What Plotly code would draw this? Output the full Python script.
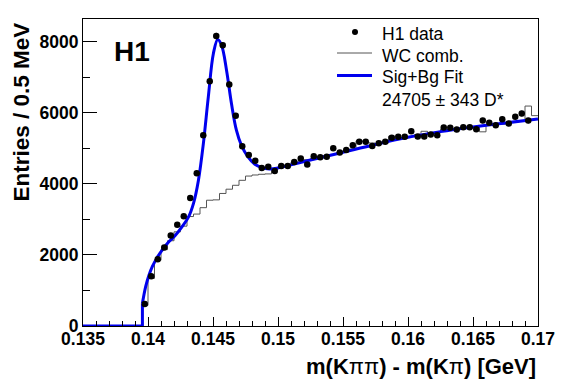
import numpy as np
import plotly.graph_objects as go

# ---- data ----
bin_width = 0.0005
x_min, x_max = 0.135, 0.17
edges = [round(x_min + i * bin_width, 5) for i in range(71)]
centers = [round(x_min + (i + 0.5) * bin_width, 6) for i in range(70)]

# H1 data (bins 9..69 nonzero)
data_counts = [0] * 9 + [
    620, 1400, 1880, 2210, 2550, 2850, 3090, 3600, 4300, 5370,
    6890, 8160, 7900, 6800, 5920, 5060, 4810, 4650, 4450, 4480,
    4365, 4505, 4500, 4615, 4715, 4545, 4775, 4750, 4765, 5000,
    4880, 4950, 5085, 5185, 5185, 5065, 5140, 5185, 5295, 5325,
    5325, 5480, 5330, 5330, 5390, 5370, 5585, 5580, 5530, 5590,
    5590, 5540, 5780, 5720, 5650, 5820, 5700, 5890, 5980, 5780,
]
data_x = centers[9:]
data_y = data_counts[9:]

# WC combination (wrong-charge) background histogram
wc_counts = [0] * 9 + [
    580, 1340, 1850, 2150, 2400, 2650, 2810, 3080, 3150, 3330,
    3540, 3550, 3730, 3850, 3960, 4100, 4220, 4250, 4270, 4280,
    4430, 4480, 4530, 4610, 4620, 4680, 4720, 4770, 4800, 4830,
    4880, 4930, 4980, 5210, 5180, 5150, 5120, 5150, 5340, 5270,
    5300, 5330, 5390, 5480, 5420, 5440, 5540, 5520, 5540, 5560,
    5580, 5600, 5465, 5640, 5660, 5680, 5720, 5740, 5760, 6190,
    5920,
]

# Sig+Bg fit curve
fit_zero_x = [0.135, 0.13957, 0.13957]
fit_zero_y = [0, 0, 640]
fit_x = [0.13957, 0.13982, 0.14008, 0.14033, 0.14071, 0.14109, 0.1416, 0.14211,
         0.14261, 0.14312, 0.1435, 0.14388, 0.14426, 0.14464, 0.14503, 0.14536,
         0.14566, 0.14604, 0.14642, 0.1468, 0.14718, 0.14769, 0.1482, 0.14871,
         0.14934, 0.14997, 0.1525, 0.155, 0.1575, 0.16, 0.1625, 0.165, 0.1675, 0.17]
fit_y = [640, 1110, 1435, 1670, 1930, 2135, 2370, 2555,
         2790, 3070, 3450, 4105, 5140, 6450, 7670, 8065,
         7900, 7200, 6260, 5510, 5090, 4760, 4560, 4465,
         4420, 4445, 4670, 4890, 5110, 5310, 5470, 5600, 5715, 5825]

x_ticks = [0.135, 0.14, 0.145, 0.15, 0.155, 0.16, 0.165, 0.17]
x_ticklabels = ["0.135", "0.14", "0.145", "0.15", "0.155", "0.16", "0.165", "0.17"]
y_ticks = [0, 2000, 4000, 6000, 8000]
legend_labels = ["H1 data", "WC comb.", "Sig+Bg Fit"]
n_signal, n_signal_err = 24705, 343

FONT = "Liberation Sans"
W, H = 567, 384
ML, MR, MT, MB = 83, 29, 19, 58
PW, PH = W - ML - MR, H - MT - MB


def px(xp):
    return (xp - ML) / PW


def py(yp):
    return 1 - (yp - MT) / PH


BLUE = "#0000ee"
GRAY = "#555555"

fig = go.Figure()

fig.add_trace(go.Scatter(
    x=edges, y=wc_counts + [wc_counts[-1]], mode="lines", line_shape="hv",
    line=dict(color=GRAY, width=1), name=legend_labels[1], showlegend=False))

fig.add_trace(go.Scatter(
    x=fit_zero_x, y=fit_zero_y, mode="lines",
    line=dict(color=BLUE, width=3), showlegend=False, hoverinfo="skip"))
fig.add_trace(go.Scatter(
    x=fit_x, y=fit_y, mode="lines", line_shape="spline",
    line=dict(color=BLUE, width=3), name=legend_labels[2], showlegend=False))

fig.add_trace(go.Scatter(
    x=data_x, y=data_y, mode="markers",
    marker=dict(color="black", size=6.5),
    error_y=dict(type="data", array=list(np.sqrt(data_y)), color="black",
                 thickness=1, width=0),
    name=legend_labels[0], showlegend=False))

fig.update_layout(
    width=W, height=H,
    margin=dict(l=ML, r=MR, t=MT, b=MB),
    paper_bgcolor="white", plot_bgcolor="white",
    font=dict(family=FONT, color="black"),
    showlegend=False,
)

TICKFONT = dict(size=17.5, family=FONT, weight="bold", color="black")
fig.update_xaxes(
    range=[x_min, x_max], showgrid=False, zeroline=False,
    showline=True, linecolor="black", linewidth=1, mirror=True,
    ticks="inside", ticklen=9, tickcolor="black",
    tickvals=x_ticks, ticktext=x_ticklabels, tickfont=TICKFONT,
    ticklabelstandoff=-3,
    minor=dict(dtick=0.001, ticks="inside", ticklen=5, tickcolor="black", showgrid=False),
)
fig.update_yaxes(
    range=[0, 8640], showgrid=False, zeroline=False,
    showline=True, linecolor="black", linewidth=1, mirror=True,
    ticks="inside", ticklen=14, tickcolor="black",
    tickvals=y_ticks, ticktext=[str(v) for v in y_ticks], tickfont=TICKFONT,
    minor=dict(dtick=1000, ticks="inside", ticklen=7, tickcolor="black", showgrid=False),
)

# ---- manual legend ----
LEGFONT = dict(size=17.5, family=FONT, color="black")
fig.add_shape(type="circle", xref="paper", yref="paper",
              xsizemode="pixel", ysizemode="pixel",
              xanchor=px(355), yanchor=py(32), x0=-3, x1=3, y0=-3, y1=3,
              fillcolor="black", line=dict(color="black", width=0))
fig.add_shape(type="line", xref="paper", yref="paper",
              x0=px(337), x1=px(372), y0=py(53), y1=py(53),
              line=dict(color=GRAY, width=1))
fig.add_shape(type="line", xref="paper", yref="paper",
              x0=px(337), x1=px(372), y0=py(75.5), y1=py(75.5),
              line=dict(color=BLUE, width=3))
for label, yc in zip(legend_labels + [f"{n_signal} \u00b1 {n_signal_err} D*"],
                     [34, 55.5, 77, 100]):
    fig.add_annotation(text=label, xref="paper", yref="paper",
                       x=px(380), y=py(yc), xanchor="left", yanchor="middle",
                       showarrow=False, font=LEGFONT)

fig.add_annotation(text="<b>H1</b>", xref="paper", yref="paper", x=px(112), y=py(51),
                   xanchor="left", yanchor="middle", showarrow=False,
                   font=dict(size=28, family=FONT))
fig.add_annotation(text="<b>Entries / 0.5 MeV</b>", xref="paper", yref="paper",
                   x=px(21), y=py(21), xanchor="center", yanchor="top",
                   textangle=-90, showarrow=False, font=dict(size=22.5, family=FONT))
fig.add_annotation(text="<b>m(K</b>\u03c0\u03c0<b>) - m(K</b>\u03c0<b>) [GeV]</b>",
                   xref="paper", yref="paper",
                   x=1.0, y=py(366), xanchor="right", yanchor="middle",
                   showarrow=False, font=dict(size=22, family=FONT))

fig.write_html("out.html", config={"displayModeBar": False},
               post_script="document.body.style.margin='0px';document.body.style.overflow='hidden';")
